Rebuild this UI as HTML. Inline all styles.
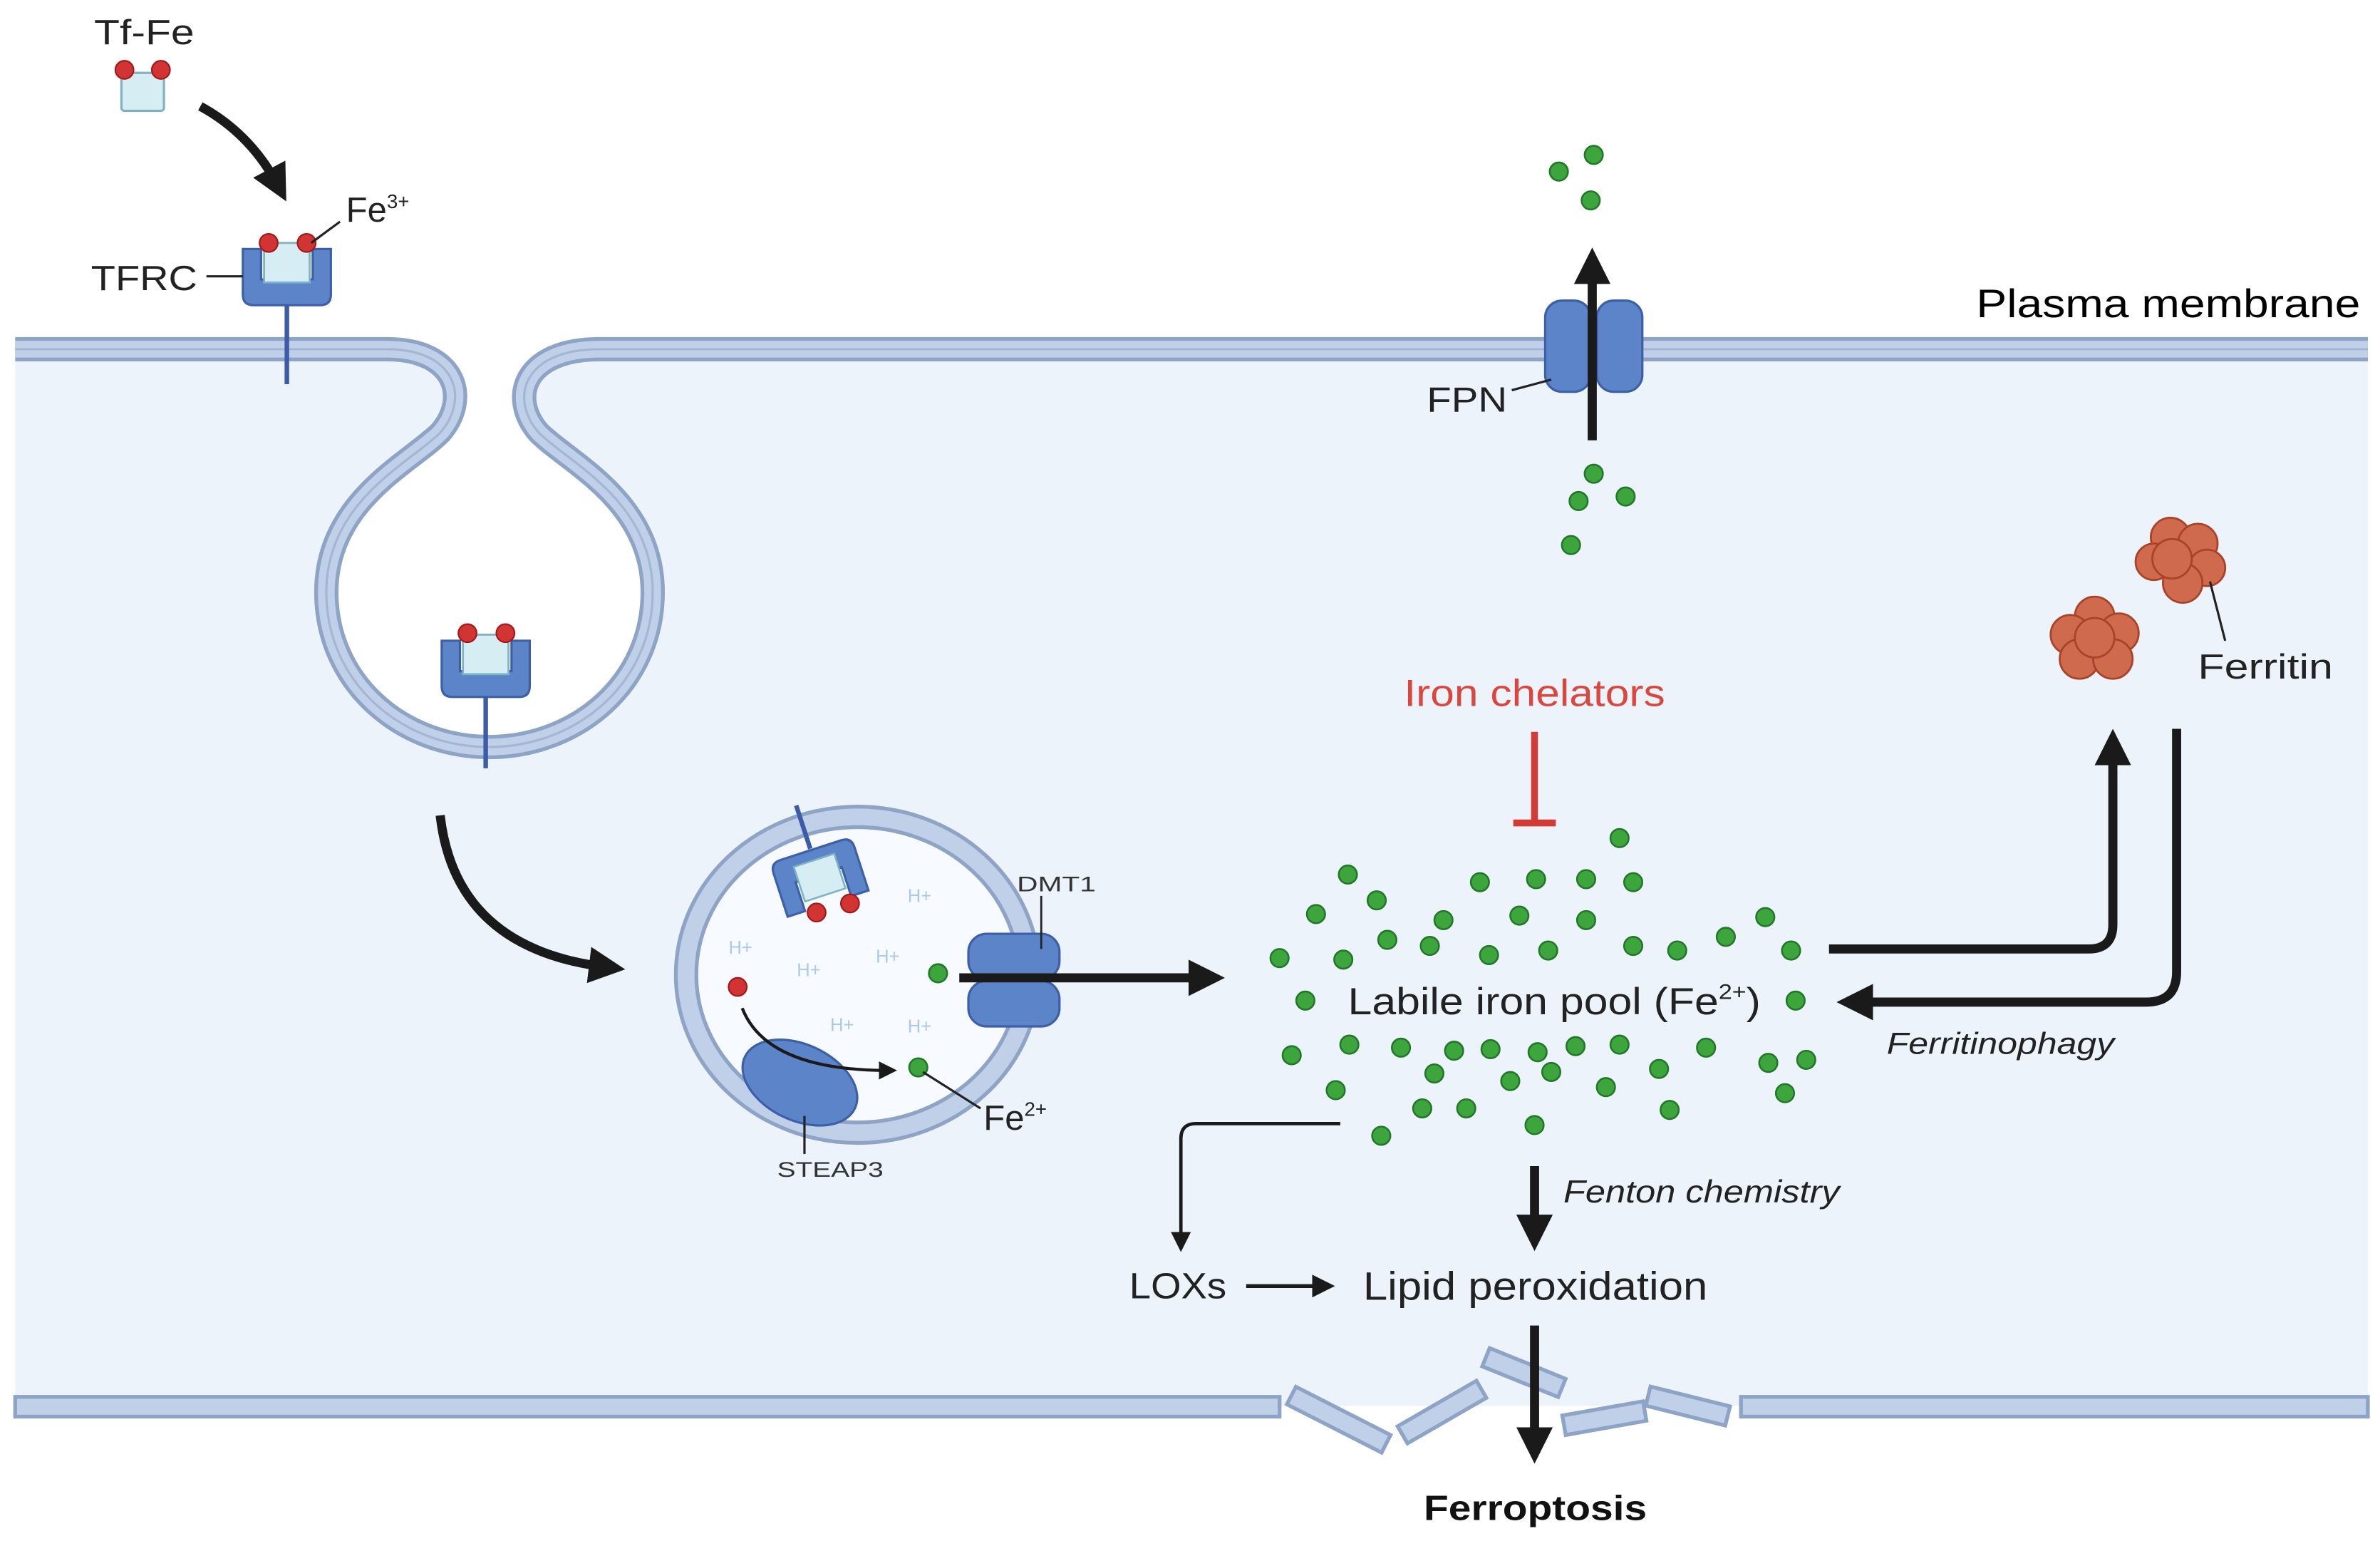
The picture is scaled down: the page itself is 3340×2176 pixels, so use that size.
<!DOCTYPE html>
<html><head><meta charset="utf-8"><style>
html,body{margin:0;padding:0;background:#fff;}
svg{display:block;}
text{font-family:"Liberation Sans",sans-serif;}
</style></head><body>
<svg width="3340" height="2176" viewBox="0 0 1568 1021.5" preserveAspectRatio="none" xmlns="http://www.w3.org/2000/svg">
<defs>
<marker id="ah" viewBox="0 0 10 10" refX="5" refY="5" markerWidth="4" markerHeight="4" orient="auto"><path d="M0,0 L10,5 L0,10 z" fill="#1a1a1a"/></marker>
<marker id="ahs" viewBox="0 0 10 10" refX="5" refY="5" markerWidth="6" markerHeight="6" orient="auto"><path d="M0,0 L10,5 L0,10 z" fill="#1a1a1a"/></marker>
<g id="gd"><circle r="6" fill="#3ca63c" stroke="#23772a" stroke-width="1.2"/></g>
</defs>
<rect width="1568" height="1021.5" fill="#fff"/>
<rect x="10" y="230" width="1550" height="696" fill="#edf3fb"/>
<path d="M255,230 C300,230 310,262 290,285 C270,305 215,330 215,390 C215,450 265,492 322,492 C380,492 430,450 430,390 C430,330 375,305 355,285 C335,262 345,230 395,230 Z" fill="#fff"/>
<path d="M10,230 H255 C300,230 310,262 290,285 C270,305 215,330 215,390 C215,450 265,492 322,492 C380,492 430,450 430,390 C430,330 375,305 355,285 C335,262 345,230 395,230 H1560" fill="none" stroke="#8ea4c6" stroke-width="16"/>
<path d="M10,230 H255 C300,230 310,262 290,285 C270,305 215,330 215,390 C215,450 265,492 322,492 C380,492 430,450 430,390 C430,330 375,305 355,285 C335,262 345,230 395,230 H1560" fill="none" stroke="#bfd0e8" stroke-width="11"/>
<path d="M10,230 H255 C300,230 310,262 290,285 C270,305 215,330 215,390 C215,450 265,492 322,492 C380,492 430,450 430,390 C430,330 375,305 355,285 C335,262 345,230 395,230 H1560" fill="none" stroke="#a3b6d4" stroke-width="1.5"/>
<g fill="#bfd0e8" stroke="#8ea4c6" stroke-width="2.5">
<rect x="10" y="920" width="833" height="13"/>
<rect x="1147" y="920" width="413" height="13"/>
<rect x="-35" y="-6.5" width="70" height="13" transform="translate(882,935) rotate(27)"/>
<rect x="-30" y="-6.5" width="60" height="13" transform="translate(950,930) rotate(-30)"/>
<rect x="-27" y="-6.5" width="54" height="13" transform="translate(1004,904) rotate(22)"/>
<rect x="-27" y="-6.5" width="54" height="13" transform="translate(1057,934) rotate(-10)"/>
<rect x="-27" y="-6.5" width="54" height="13" transform="translate(1112,926) rotate(14)"/>
</g>
<text x="62" y="29" font-size="23" fill="#222" textLength="66" lengthAdjust="spacingAndGlyphs">Tf-Fe</text>
<rect x="80" y="48" width="28" height="25" rx="2" fill="#d6edf4" stroke="#7fb3c4" stroke-width="1.5"/>
<circle cx="82" cy="46" r="6" fill="#d23434" stroke="#a01818"/>
<circle cx="106" cy="46" r="6" fill="#d23434" stroke="#a01818"/>
<path d="M132,70 Q165,88 183,122" fill="none" stroke="#1a1a1a" stroke-width="6" marker-end="url(#ah)"/>
<path d="M160,164 h12 v20 h34 v-20 h12 v30 q0,7 -7,7 h-44 q-7,0 -7,-7 z" fill="#5b85c8" stroke="#3d5fa8" stroke-width="1.5"/>
<rect x="174" y="160" width="30" height="26" fill="#d6edf4" stroke="#7fb3c4" stroke-width="1.3"/>
<circle cx="177" cy="160" r="6" fill="#d23434" stroke="#a01818"/>
<circle cx="202" cy="160" r="6" fill="#d23434" stroke="#a01818"/>
<line x1="189" y1="201" x2="189" y2="253" stroke="#3d5ca8" stroke-width="3"/>
<line x1="205" y1="160" x2="224" y2="146" stroke="#222" stroke-width="1.5"/>
<text x="228" y="146" font-size="23" fill="#222">Fe<tspan font-size="13" dy="-9">3+</tspan></text>
<text x="60" y="191" font-size="23" fill="#222" textLength="70" lengthAdjust="spacingAndGlyphs">TFRC</text>
<line x1="136" y1="182" x2="160" y2="182" stroke="#222" stroke-width="1.5"/>
<path d="M291,422 h12 v20 h34 v-20 h12 v30 q0,7 -7,7 h-44 q-7,0 -7,-7 z" fill="#5b85c8" stroke="#3d5fa8" stroke-width="1.5"/>
<rect x="305" y="418" width="30" height="26" fill="#d6edf4" stroke="#7fb3c4" stroke-width="1.3"/>
<circle cx="308" cy="417" r="6" fill="#d23434" stroke="#a01818"/>
<circle cx="333" cy="417" r="6" fill="#d23434" stroke="#a01818"/>
<line x1="320" y1="459" x2="320" y2="506" stroke="#3d5ca8" stroke-width="3"/>
<path d="M290,537 Q300,625 400,637" fill="none" stroke="#1a1a1a" stroke-width="6" marker-end="url(#ah)"/>
<ellipse cx="565" cy="642" rx="113" ry="104" fill="#f7fafe" stroke="#8ea4c6" stroke-width="16"/>
<ellipse cx="565" cy="642" rx="113" ry="104" fill="none" stroke="#bfd0e8" stroke-width="11"/>
<g transform="translate(540,578) rotate(-18)">
<path d="M-28,-18 h12 v20 h32 v-20 h12 v30 q0,7 -7,7 h-42 q-7,0 -7,-7 z" fill="#5b85c8" stroke="#3d5fa8" stroke-width="1.5" transform="rotate(180)"/>
<rect x="-14" y="-12" width="28" height="24" fill="#d6edf4" stroke="#7fb3c4" stroke-width="1.2"/>
<line x1="0" y1="-20" x2="0" y2="-50" stroke="#3d5ca8" stroke-width="3"/>
</g>
<circle cx="538" cy="601" r="6" fill="#d23434" stroke="#a01818"/>
<circle cx="560" cy="595" r="6" fill="#d23434" stroke="#a01818"/>
<g font-size="12" fill="#a9c9ee">
<text x="598" y="594">H+</text><text x="480" y="628">H+</text><text x="525" y="643">H+</text>
<text x="577" y="634">H+</text><text x="547" y="679">H+</text><text x="598" y="680">H+</text>
</g>
<ellipse cx="527" cy="713" rx="40" ry="25" transform="rotate(25 527 713)" fill="#5b85c8" stroke="#3d5fa8" stroke-width="1.5"/>
<circle cx="486" cy="650" r="6" fill="#d23434" stroke="#a01818"/>
<path d="M489,664 Q505,705 585,705" fill="none" stroke="#1a1a1a" stroke-width="2" marker-end="url(#ahs)"/>
<use href="#gd" x="605" y="703"/>
<use href="#gd" x="618" y="641"/>
<line x1="608" y1="706" x2="646" y2="730" stroke="#222" stroke-width="1.5"/>
<text x="648" y="744" font-size="23" fill="#222">Fe<tspan font-size="13" dy="-9">2+</tspan></text>
<line x1="530" y1="735" x2="530" y2="760" stroke="#222" stroke-width="1.5"/>
<text x="512" y="775" font-size="14" fill="#333" textLength="70" lengthAdjust="spacingAndGlyphs">STEAP3</text>
<rect x="638" y="615" width="60" height="30" rx="12" fill="#5b85c8" stroke="#3d5fa8" stroke-width="1.5"/>
<rect x="638" y="646" width="60" height="30" rx="12" fill="#5b85c8" stroke="#3d5fa8" stroke-width="1.5"/>
<line x1="686" y1="590" x2="686" y2="625" stroke="#222" stroke-width="1.3"/>
<text x="670" y="587" font-size="14" fill="#333" textLength="52" lengthAdjust="spacingAndGlyphs">DMT1</text>
<line x1="632" y1="644" x2="795" y2="644" stroke="#1a1a1a" stroke-width="6" marker-end="url(#ah)"/>
<g>
<use href="#gd" x="1067" y="552"/><use href="#gd" x="888" y="576"/><use href="#gd" x="975" y="581"/><use href="#gd" x="1012" y="579"/><use href="#gd" x="1045" y="579"/><use href="#gd" x="1076" y="581"/><use href="#gd" x="907" y="593"/><use href="#gd" x="867" y="602"/><use href="#gd" x="951" y="606"/><use href="#gd" x="1001" y="603"/><use href="#gd" x="1045" y="606"/><use href="#gd" x="1137" y="617"/><use href="#gd" x="1163" y="604"/><use href="#gd" x="914" y="619"/><use href="#gd" x="942" y="623"/><use href="#gd" x="981" y="629"/><use href="#gd" x="1020" y="626"/><use href="#gd" x="1076" y="623"/><use href="#gd" x="1105" y="626"/><use href="#gd" x="1180" y="626"/><use href="#gd" x="843" y="631"/><use href="#gd" x="885" y="632"/><use href="#gd" x="860" y="659"/><use href="#gd" x="1183" y="659"/><use href="#gd" x="851" y="695"/><use href="#gd" x="889" y="688"/><use href="#gd" x="923" y="690"/><use href="#gd" x="958" y="692"/><use href="#gd" x="982" y="691"/><use href="#gd" x="1013" y="693"/><use href="#gd" x="1038" y="689"/><use href="#gd" x="1067" y="688"/><use href="#gd" x="1093" y="704"/><use href="#gd" x="1124" y="690"/><use href="#gd" x="1165" y="700"/><use href="#gd" x="1190" y="698"/><use href="#gd" x="880" y="718"/><use href="#gd" x="945" y="707"/><use href="#gd" x="995" y="712"/><use href="#gd" x="1022" y="706"/><use href="#gd" x="1058" y="716"/><use href="#gd" x="1176" y="720"/><use href="#gd" x="937" y="730"/><use href="#gd" x="966" y="730"/><use href="#gd" x="1100" y="731"/><use href="#gd" x="910" y="748"/><use href="#gd" x="1011" y="741"/>
</g>
<text x="888" y="668" font-size="25" fill="#222" textLength="272" lengthAdjust="spacingAndGlyphs">Labile iron pool (Fe<tspan font-size="14" dy="-10">2+</tspan><tspan dy="10">)</tspan></text>
<text x="925" y="465" font-size="25" fill="#d9473f" textLength="172" lengthAdjust="spacingAndGlyphs">Iron chelators</text>
<line x1="1011" y1="482" x2="1011" y2="542" stroke="#d23a35" stroke-width="4.5"/>
<line x1="997" y1="542" x2="1025" y2="542" stroke="#d23a35" stroke-width="4.5"/>
<rect x="1018" y="198" width="30" height="60" rx="11" fill="#5b85c8" stroke="#3d5fa8" stroke-width="1.5"/>
<rect x="1052" y="198" width="30" height="60" rx="11" fill="#5b85c8" stroke="#3d5fa8" stroke-width="1.5"/>
<line x1="1049" y1="290" x2="1049" y2="175" stroke="#1a1a1a" stroke-width="6" marker-end="url(#ah)"/>
<use href="#gd" x="1027" y="113"/><use href="#gd" x="1050" y="102"/><use href="#gd" x="1048" y="132"/>
<use href="#gd" x="1050" y="312"/><use href="#gd" x="1040" y="330"/><use href="#gd" x="1071" y="327"/><use href="#gd" x="1035" y="359"/>
<line x1="996" y1="257" x2="1022" y2="250" stroke="#222" stroke-width="1.5"/>
<text x="940" y="271" font-size="23" fill="#222" textLength="53" lengthAdjust="spacingAndGlyphs">FPN</text>
<text x="1302" y="209" font-size="26" fill="#000" textLength="253" lengthAdjust="spacingAndGlyphs">Plasma membrane</text>
<g fill="#d06a4c" stroke="#a8432a" stroke-width="1.3">
<g transform="translate(1380,420)"><circle cx="0" cy="-14" r="13"/><circle cx="-16" cy="-2" r="13"/><circle cx="16" cy="-3" r="13"/><circle cx="-10" cy="14" r="13"/><circle cx="12" cy="14" r="13"/><circle cx="0" cy="0" r="13"/></g>
<g transform="translate(1436,368)"><circle cx="-6" cy="-14" r="13"/><circle cx="12" cy="-10" r="13"/><circle cx="-17" cy="2" r="12"/><circle cx="18" cy="6" r="12"/><circle cx="2" cy="16" r="13"/><circle cx="-5" cy="0" r="13"/></g>
</g>
<line x1="1456" y1="383" x2="1466" y2="422" stroke="#222" stroke-width="1.5"/>
<text x="1448" y="447" font-size="23" fill="#222" textLength="89" lengthAdjust="spacingAndGlyphs">Ferritin</text>
<path d="M1205,625 H1376 Q1392,625 1392,609 V492" fill="none" stroke="#1a1a1a" stroke-width="6" marker-end="url(#ah)"/>
<path d="M1434,480 V640 Q1434,660 1414,660 H1222" fill="none" stroke="#1a1a1a" stroke-width="6" marker-end="url(#ah)"/>
<text x="1243" y="694" font-size="20" font-style="italic" fill="#222" textLength="150" lengthAdjust="spacingAndGlyphs">Ferritinophagy</text>
<path d="M883,740 H788 Q778,740 778,750 V818" fill="none" stroke="#1a1a1a" stroke-width="2.2" marker-end="url(#ahs)"/>
<line x1="1011" y1="768" x2="1011" y2="812" stroke="#1a1a1a" stroke-width="6" marker-end="url(#ah)"/>
<text x="1030" y="792" font-size="21" font-style="italic" fill="#222" textLength="182" lengthAdjust="spacingAndGlyphs">Fenton chemistry</text>
<text x="744" y="855" font-size="24" fill="#222" textLength="64" lengthAdjust="spacingAndGlyphs">LOXs</text>
<line x1="821" y1="847" x2="872" y2="847" stroke="#1a1a1a" stroke-width="2.5" marker-end="url(#ahs)"/>
<text x="898" y="856" font-size="26" fill="#222" textLength="227" lengthAdjust="spacingAndGlyphs">Lipid peroxidation</text>
<line x1="1011" y1="873" x2="1011" y2="952" stroke="#1a1a1a" stroke-width="6" marker-end="url(#ah)"/>
<text x="938" y="1001" font-size="23" font-weight="bold" fill="#111" textLength="147" lengthAdjust="spacingAndGlyphs">Ferroptosis</text>
</svg>
</body></html>
